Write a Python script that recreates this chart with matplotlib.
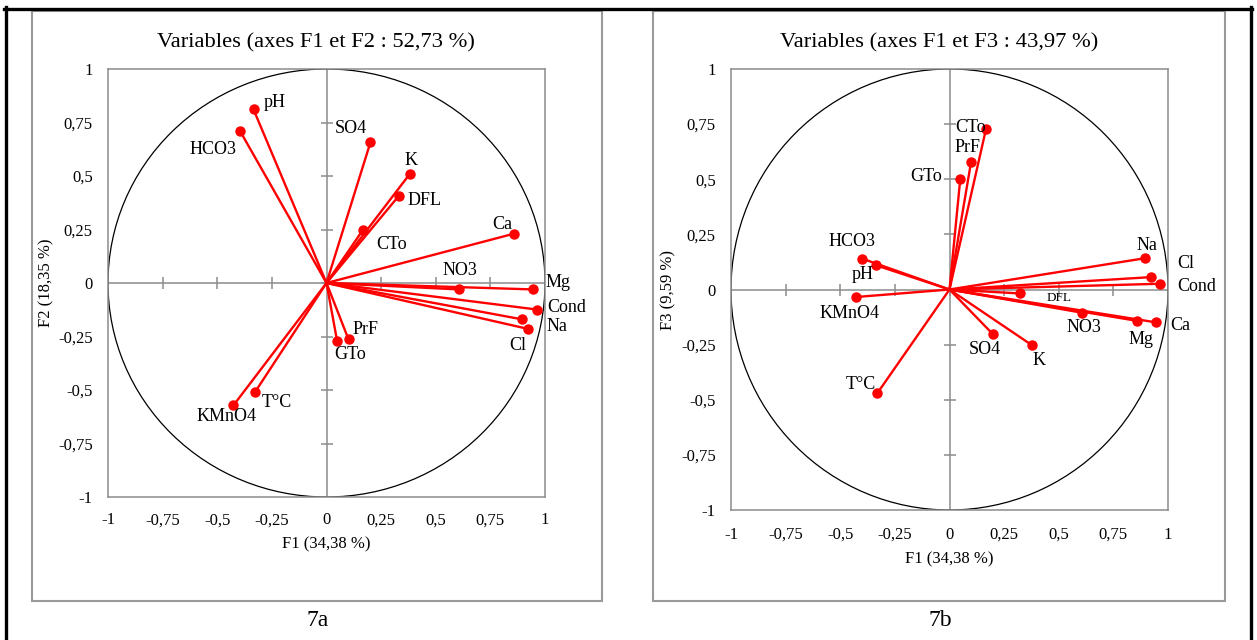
import matplotlib
matplotlib.use("Agg")
import matplotlib.pyplot as plt
from matplotlib.patches import Circle, Rectangle
from matplotlib.lines import Line2D
from matplotlib.ticker import FixedLocator, FuncFormatter

plt.rcParams['font.family'] = ['Liberation Serif', 'DejaVu Serif']

# ---- Panel 7a : correlation circle on F1 x F2 ----
vars_a = ["pH", "HCO3", "SO4", "K", "DFL", "CTo", "Ca", "NO3",
          "Mg", "Cond", "Na", "Cl", "PrF", "GTo", "T°C", "KMnO4"]
f1_a = [-0.334, -0.395, 0.201, 0.380, 0.330, 0.166, 0.860, 0.606,
        0.944, 0.963, 0.896, 0.920, 0.101, 0.049, -0.326, -0.426]
f2_a = [0.811, 0.709, 0.657, 0.508, 0.406, 0.247, 0.231, -0.030,
        -0.030, -0.124, -0.170, -0.214, -0.264, -0.273, -0.508, -0.572]

# ---- Panel 7b : correlation circle on F1 x F3 ----
vars_b = ["CTo", "PrF", "GTo", "HCO3", "pH", "KMnO4", "Na", "Cl",
          "Cond", "DFL", "NO3", "Mg", "Ca", "SO4", "K", "T°C"]
f1_b = [0.167, 0.099, 0.049, -0.400, -0.337, -0.427, 0.895, 0.920,
        0.963, 0.324, 0.605, 0.857, 0.945, 0.197, 0.378, -0.330]
f3_b = [0.727, 0.580, 0.499, 0.140, 0.110, -0.034, 0.142, 0.056,
        0.026, -0.018, -0.105, -0.142, -0.149, -0.201, -0.253, -0.470]

tick_values = [-1, -0.75, -0.5, -0.25, 0, 0.25, 0.5, 0.75, 1]

title_a = "Variables (axes F1 et F2 : 52,73 %)"
title_b = "Variables (axes F1 et F3 : 43,97 %)"
xlabel_a = "F1 (34,38 %)"
ylabel_a = "F2 (18,35 %)"
xlabel_b = "F1 (34,38 %)"
ylabel_b = "F3 (9,59 %)"
caption_a = "7a"
caption_b = "7b"

# label placement around each marker (pixels: dx, dy)
offsets_a = {
    "pH": (21, 7), "HCO3": (-27, -18), "SO4": (-20, 14), "K": (1, 14),
    "DFL": (26, -4), "CTo": (29, -14), "Ca": (-12, 9), "NO3": (1, 19),
    "Mg": (25, 7), "Cond": (30, 2), "Na": (35, -7), "Cl": (-10, -17),
    "PrF": (17, 10), "GTo": (13, -13), "T°C": (22, -11), "KMnO4": (-7, -11),
}
offsets_b = {
    "CTo": (-15, 2), "PrF": (-4, 14), "GTo": (-34, 3), "HCO3": (-10, 17),
    "pH": (-13, -9), "KMnO4": (-7, -17), "Na": (2, 13), "Cl": (35, 14),
    "Cond": (37, -3), "DFL": (39, -5), "NO3": (2, -15), "Mg": (4, -19),
    "Ca": (24, -3), "SO4": (-8, -16), "K": (7, -15), "T°C": (-17, 9),
}
small_labels_b = {"DFL"}

W, H = 1257, 640
fig = plt.figure(figsize=(W / 100, H / 100), dpi=100)

GRID = "#8c8c8c"
RED = "#ff0000"


def fig_rect(x0, y0, x1, y1):
    """pixel box (top-left origin) -> figure fraction [l, b, w, h]"""
    return [x0 / W, 1 - y1 / H, (x1 - x0) / W, (y1 - y0) / H]


def fmt(v, _pos=None):
    return ("%g" % v).replace(".", ",")


def draw_panel(ax, xs, ys, names, offsets, xlabel, ylabel,
               xtick_pad, xlabel_pad, ylabel_x, small=()):
    ax.set_xlim(-1, 1)
    ax.set_ylim(-1, 1)
    for sp in ax.spines.values():
        sp.set_color(GRID)
        sp.set_linewidth(1.1)
    ax.xaxis.set_major_locator(FixedLocator(tick_values))
    ax.yaxis.set_major_locator(FixedLocator(tick_values))
    ax.xaxis.set_major_formatter(FuncFormatter(fmt))
    ax.yaxis.set_major_formatter(FuncFormatter(fmt))
    ax.tick_params(axis="both", length=0, labelsize=12, colors="black")
    ax.tick_params(axis="x", pad=xtick_pad)
    ax.tick_params(axis="y", pad=11)

    # axes through the origin with crossing tick marks
    ax.axhline(0, color=GRID, lw=1.1, zorder=1)
    ax.axvline(0, color=GRID, lw=1.1, zorder=1)
    tv = [t for t in tick_values if abs(t) < 1]
    ax.plot(tv, [0] * len(tv), ls="none", marker="|", ms=9,
            mew=1.1, color=GRID, zorder=1)
    ax.plot([0] * len(tv), tv, ls="none", marker="_", ms=9,
            mew=1.1, color=GRID, zorder=1)

    # unit circle
    ax.add_patch(Circle((0, 0), 1, fill=False, ec="black", lw=0.9, zorder=2))

    # variable vectors
    for x, y in zip(xs, ys):
        ax.plot([0, x], [0, y], color=RED, lw=1.7, zorder=3,
                solid_capstyle="butt")
    ax.plot(xs, ys, ls="none", marker="o", ms=6.5, color=RED, zorder=4)

    for name, x, y in zip(names, xs, ys):
        dx, dy = offsets[name]
        ax.annotate(name, (x, y), xytext=(dx, dy), textcoords="offset pixels",
                    ha="center", va="center",
                    fontsize=9.5 if name in small else 13, zorder=5)

    ax.set_xlabel(xlabel, fontsize=12, labelpad=xlabel_pad)
    ax.set_ylabel(ylabel, fontsize=12)
    ax.yaxis.set_label_coords(ylabel_x, 0.5)


# outer black frame (top, left, right)
fig.add_artist(Line2D([4 / W, 1252 / W], [1 - 8.5 / H, 1 - 8.5 / H],
                      color="black", lw=2.4, transform=fig.transFigure))
fig.add_artist(Line2D([5.5 / W, 5.5 / W], [1 - 7 / H, 0],
                      color="black", lw=2.4, transform=fig.transFigure))
fig.add_artist(Line2D([1250.5 / W, 1250.5 / W], [1 - 7 / H, 0],
                      color="black", lw=2.4, transform=fig.transFigure))

# chart boxes
for (x0, y0, x1, y1) in [(32, 11, 602, 601), (653, 11, 1225, 601)]:
    l, b, w, h = fig_rect(x0, y0, x1, y1)
    fig.add_artist(Rectangle((l, b), w, h, transform=fig.transFigure,
                             fill=False, ec="#9a9a9a", lw=1.5))

ax_a = fig.add_axes(fig_rect(108, 69, 545, 497))
ax_b = fig.add_axes(fig_rect(731, 69, 1168, 510))

draw_panel(ax_a, f1_a, f2_a, vars_a, offsets_a, xlabel_a, ylabel_a,
           xtick_pad=11, xlabel_pad=6, ylabel_x=(54 - 108) / 437)
draw_panel(ax_b, f1_b, f3_b, vars_b, offsets_b, xlabel_b, ylabel_b,
           xtick_pad=12, xlabel_pad=6, ylabel_x=(676 - 731) / 437,
           small=small_labels_b)

# chart titles
fig.text(316 / W, 1 - 43 / H, title_a, ha="center", va="center", fontsize=16.2)
fig.text(939 / W, 1 - 43 / H, title_b, ha="center", va="center", fontsize=16.2)

fig.text(318 / W, 1 - 620 / H, caption_a, ha="center", va="center", fontsize=17)
fig.text(940 / W, 1 - 620 / H, caption_b, ha="center", va="center", fontsize=17)

fig.savefig("out.png", dpi=100)
